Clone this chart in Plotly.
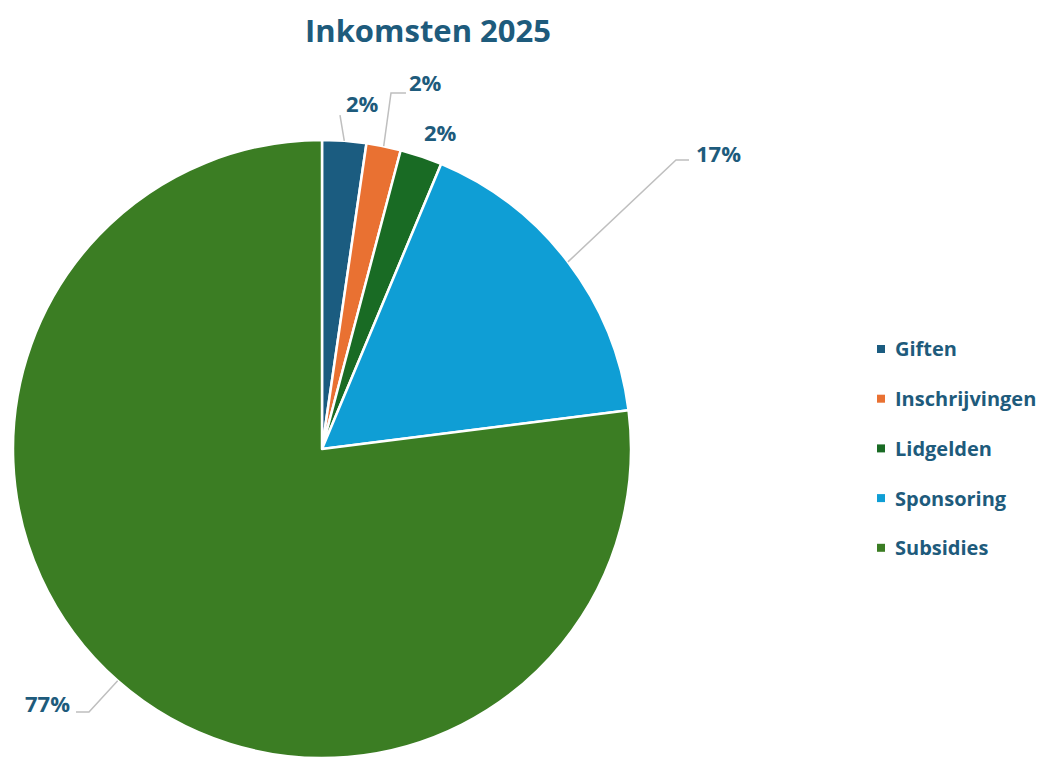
import math
import plotly.graph_objects as go

# ---- data ----
categories = ["Giften", "Inschrijvingen", "Lidgelden", "Sponsoring", "Subsidies"]
values = [2.3, 1.8, 2.2, 16.7, 77.0]
colors = ["#1B5C80", "#E97132", "#196B24", "#0F9ED5", "#3B7D23"]
title_text = "Inkomsten 2025"

# ---- layout constants (page pixels) ----
W, H = 1049, 759
OFF = 8  # default body margin of the page
FW, FH = W - OFF, H - OFF
CX, CY, R = 322, 449, 309
TEXT_COLOR = "#1E5B7C"
LINE_COLOR = "#BFBFBF"
FONT = "Open Sans"
# label positions (px) and leader-line elbow points (px) per slice
label_pos = [(362, 103), (425, 82), (440, 132), (718, 153), (47, 703)]
leader_pts = [[(340, 115)], [(391, 93), (406, 93)], [], [(676, 160), (689, 160)], [(89, 712), (76, 712)]]
legend_x, legend_y0, legend_dy = 881, 349, 49.7


def px(x):
    return (x - OFF) / FW


def py(y):
    return 1 - (y - OFF) / FH


fig = go.Figure()
fig.add_trace(go.Pie(
    labels=categories,
    values=values,
    sort=False,
    direction="clockwise",
    rotation=0,
    marker=dict(colors=colors, line=dict(color="white", width=2.5)),
    textinfo="none",
    hoverinfo="label+percent",
    domain=dict(x=[px(CX - R), px(CX + R)], y=[max(0, py(CY + R)), py(CY - R)]),
    showlegend=False,
))

total = sum(values)
shapes = []
annotations = []
cum = 0.0
for i, (cat, v) in enumerate(zip(categories, values)):
    mid = (cum + v / 2) / total * 2 * math.pi
    cum += v
    ex = CX + R * math.sin(mid)
    ey = CY - R * math.cos(mid)
    pts = [(ex, ey)] + leader_pts[i]
    if len(pts) > 1:
        path = "M " + " L ".join(f"{px(a):.5f},{py(b):.5f}" for a, b in pts)
        shapes.append(dict(type="path", path=path, xref="paper", yref="paper",
                           line=dict(color=LINE_COLOR, width=1.5)))
    lx, ly = label_pos[i]
    annotations.append(dict(
        x=px(lx), y=py(ly), xref="paper", yref="paper", showarrow=False,
        text=f"{round(v / total * 100):.0f}%", xanchor="center", yanchor="middle",
        font=dict(family=FONT, size=22, color=TEXT_COLOR, weight="bold"),
    ))

# legend
for i, (cat, c) in enumerate(zip(categories, colors)):
    y = legend_y0 + i * legend_dy
    shapes.append(dict(type="rect", xref="paper", yref="paper",
                       x0=px(legend_x - 4), x1=px(legend_x + 4),
                       y0=py(y + 4), y1=py(y - 4),
                       fillcolor=c, line=dict(width=0)))
    annotations.append(dict(
        x=px(legend_x + 12), y=py(y), xref="paper", yref="paper", showarrow=False,
        text=cat, xanchor="left", yanchor="middle",
        font=dict(family=FONT, size=20, color=TEXT_COLOR, weight="bold"),
    ))

annotations.append(dict(
    x=px(428), y=1, xref="paper", yref="paper", showarrow=False,
    text=title_text, xanchor="center", yanchor="top", borderpad=0,
    font=dict(family=FONT, size=31, color=TEXT_COLOR, weight="bold"),
))

fig.update_layout(
    width=FW, height=FH,
    margin=dict(l=0, r=0, t=0, b=0),
    paper_bgcolor="white", plot_bgcolor="white",
    shapes=shapes, annotations=annotations,
    showlegend=False,
)

fig.write_html("out.html")
